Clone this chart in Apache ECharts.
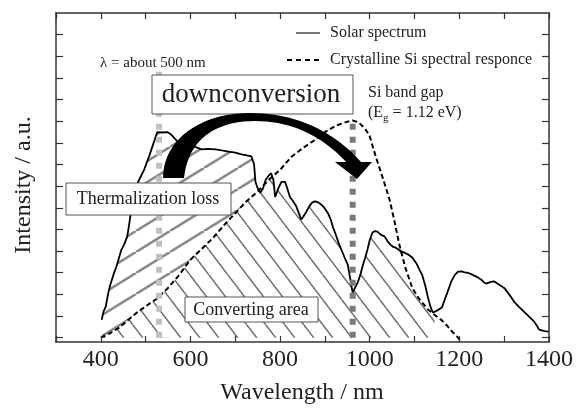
<!DOCTYPE html>
<html>
<head>
<meta charset="utf-8">
<script src="https://cdn.jsdelivr.net/npm/echarts@6/dist/echarts.min.js"></script>
<style>
html,body{margin:0;padding:0;background:#fff;}
#c{width:576px;height:409px;}
</style>
</head>
<body>
<div id="c"></div>
<script>
// ---- data ----
const solarNm = [402,406,411,416,420,428,435,446,452,459,463,468,474,479,488,497,508,519,526,530,540,548,556,565,574,585,597,612,625,640,656,670,685,700,714,726,736,742,745,750,756,762,768,774,780,785,789,796,803,811,816,822,829,836,841,847,852,858,866,872,878,885,891,897,902,908,913,918,924,932,940,946,951,955,957,960,962,967,973,979,984,990,995,1000,1006,1012,1017,1025,1033,1040,1046,1052,1057,1064,1075,1085,1095,1105,1112,1117,1124,1130,1136,1141,1150,1161,1168,1174,1182,1190,1197,1205,1212,1219,1230,1240,1249,1255,1260,1270,1278,1289,1300,1311,1322,1333,1344,1355,1367,1373,1378,1390,1400];
const solarVal = [0.83,1.2,1.43,2.0,2.36,2.9,3.3,4.07,4.3,4.68,5.2,5.9,6.5,7.0,7.4,7.78,8.4,9.07,9.5,9.53,9.48,9.5,9.4,9.2,9.0,8.98,8.93,8.8,8.7,8.72,8.7,8.65,8.6,8.55,8.47,8.42,8.38,8.0,7.2,6.9,6.7,6.9,7.3,7.47,7.6,7.3,6.5,6.9,7.2,7.2,6.9,6.5,6.3,6.07,5.8,5.46,5.6,5.8,6.1,6.25,6.3,6.25,6.16,6.05,5.9,5.7,5.46,5.1,4.77,4.3,3.9,3.6,3.38,2.9,2.68,2.3,2.08,2.3,2.54,2.9,3.3,3.7,4.07,4.5,4.86,4.92,4.9,4.75,4.68,4.45,4.3,4.2,4.17,4.07,3.95,3.85,3.7,3.4,3.1,2.9,2.4,1.85,1.4,1.16,1.25,1.39,1.8,2.13,2.6,2.9,3.05,3.06,3.02,3.0,2.9,2.8,2.68,2.55,2.5,2.58,2.6,2.45,2.3,2.0,1.67,1.42,1.2,0.98,0.74,0.55,0.37,0.3,0.28];
const siNm  = [400,420,440,460,480,500,525,550,575,600,625,650,675,700,725,750,775,800,825,850,875,900,925,950,962,975,990,1000,1013,1028,1044,1055,1066,1080,1095,1110,1130,1145,1161,1175,1183,1195,1205];
const siVal = [0.0,0.2,0.45,0.8,1.15,1.45,1.8,2.3,2.9,3.6,4.1,4.6,5.2,5.75,6.3,6.75,7.3,7.75,8.35,8.75,9.1,9.5,9.8,9.98,10.03,9.95,9.65,9.3,8.4,7.45,6.4,5.4,4.3,3.2,2.3,1.8,1.3,1.05,0.8,0.5,0.3,0.05,-0.2];
const thermEndNm = 756;           // thermalization hatch ends where the curves cross
const convEndNm = 1145;           // converting-area hatch ends where the curves cross again
const markerNm  = [530, 962];     // λ ≈ 500 nm marker, Si band gap marker
const markerTop = [12.5, 10.2];
const xTicks = {min:300, max:1400, step:100, labelStep:200};
const yTicks = [0,1,2,3,4,5,6,7,8,9,10,11,12,13,14];
const legendNames = ['Solar spectrum','Crystalline Si spectral responce'];

const FONT = '"Liberation Serif", "DejaVu Serif", serif';

function pairs(xs, ys){ return xs.map((x,i)=>[x, ys[i]]); }
const solar = pairs(solarNm, solarVal);
const si = pairs(siNm, siVal);
const therm = solar.filter(p => p[0] <= thermEndNm);
const conv = si.filter(p => p[0] <= convEndNm);

function hatch(w, h, color, lw, dir){
  const c = document.createElement('canvas');
  c.width = w; c.height = h;
  const g = c.getContext('2d');
  g.fillStyle = '#fff'; g.fillRect(0,0,w,h);
  g.strokeStyle = color; g.lineWidth = lw; g.lineCap = 'butt';
  for (let k=-1;k<=1;k++){
    g.beginPath();
    if (dir === 'up'){ g.moveTo(k*w, h); g.lineTo(k*w+w, 0); }
    else { g.moveTo(k*w, 0); g.lineTo(k*w+w, h); }
    g.stroke();
  }
  return c;
}
const patUp = hatch(34, 21, '#8a8a8a', 2.6, 'up');
const patDown = hatch(19, 25, '#707070', 1.5, 'down');

const mctx = document.createElement('canvas').getContext('2d');
function tw(t, size){ mctx.font = size + 'px ' + FONT; return mctx.measureText(t).width; }

// arrow outline (pixel geometry of the drawn annotation)
function bez(p0, p1, p2, p3, n){
  const out = [];
  for (let i=0;i<=n;i++){
    const t=i/n, u=1-t;
    out.push([u*u*u*p0[0]+3*u*u*t*p1[0]+3*u*t*t*p2[0]+t*t*t*p3[0],
              u*u*u*p0[1]+3*u*u*t*p1[1]+3*u*t*t*p2[1]+t*t*t*p3[1]]);
  }
  return out;
}
const arrowPts = [].concat(
  bez([163,178],[163,140],[200,113],[250,113],20),
  bez([250,113],[295,113],[332,130],[361,162],20),
  [[372,162],[357,179],[335,162],[346,162]],
  bez([346,162],[325,139],[295,121],[255,121],20),
  bez([255,121],[215,121],[188,140],[184,178],20)
);

const chart = echarts.init(document.getElementById('c'), null, {renderer:'canvas'});

const axisLineStyle = {color:'#333', width:1.5};
function xAx(pos, labels){
  return {
    type:'value', position:pos, min:xTicks.min, max:xTicks.max, interval:xTicks.step, z:10,
    axisLine:{show:true, onZero:false, lineStyle:axisLineStyle},
    axisTick:{show:true, inside:true, length:6, lineStyle:{color:'#333', width:1.2}},
    axisLabel:{show:labels, margin:6, fontFamily:FONT, fontSize:24, color:'#222',
      formatter: v => (v % xTicks.labelStep === 0 && v !== xTicks.min) ? String(v) : ''},
    splitLine:{show:false}
  };
}
function yAx(pos){
  return {
    type:'value', position:pos, min:-0.2, max:15, z:10,
    axisLine:{show:true, onZero:false, lineStyle:axisLineStyle},
    axisTick:{show:true, inside:true, length:7, customValues:yTicks, lineStyle:{color:'#333', width:1.2}},
    axisLabel:{show:false},
    splitLine:{show:false}
  };
}
const noLine = {width:0, opacity:0};

// subscript text pieces
const ebx = 368, eby = 113;
const w1 = tw('(E', 16), wg = tw('g', 11);

function box(x, y, w, h){
  return {type:'rect', z:100, shape:{x:x, y:y, width:w, height:h}, style:{fill:'#fff', stroke:'#555', lineWidth:1}};
}
function txt(t, x, y, size, align){
  return {type:'text', z:101, style:{text:t, x:x, y:y, font: size + 'px ' + FONT, fill:'#222',
    textAlign:align||'left', align:align||'left', textVerticalAlign:'middle', verticalAlign:'middle'}};
}

const option = {
  animation:false,
  backgroundColor:'#fff',
  grid:{left:56, right:23, top:13, bottom:67, containLabel:false},
  xAxis:[xAx('bottom', true), xAx('top', false)],
  yAxis:[yAx('left'), yAx('right')],
  series:[
    {type:'line', data:therm, symbol:'none', lineStyle:noLine, areaStyle:{color:{image:patUp, repeat:'repeat'}, opacity:1}, z:1},
    {type:'line', data:conv, symbol:'none', lineStyle:noLine, areaStyle:{color:{image:patDown, repeat:'repeat'}, opacity:1}, z:2},
    {type:'line', data:solar, symbol:'none', lineStyle:noLine, areaStyle:{color:'#fff', origin:'end', opacity:1}, z:3},
    {type:'line', name:legendNames[0], data:solar, symbol:'none', lineStyle:{color:'#000', width:1.8}, z:5},
    {type:'line', name:legendNames[1], data:si, symbol:'none', lineStyle:{color:'#000', width:2, type:[5,3]}, z:5},
    {type:'line', data:[[markerNm[0],0],[markerNm[0],markerTop[0]]], symbol:'none', lineStyle:{color:'#c0c0c0', width:6, type:[6,7], cap:'butt'}, z:6},
    {type:'line', data:[[markerNm[1],0],[markerNm[1],markerTop[1]]], symbol:'none', lineStyle:{color:'#7a7a7a', width:6, type:[6,7], cap:'butt'}, z:6}
  ],
  graphic:[
    // legend
    {type:'line', z:100, shape:{x1:296, y1:33, x2:320, y2:33}, style:{stroke:'#777', lineWidth:2}},
    txt(legendNames[0], 330, 33, 16),
    {type:'line', z:100, shape:{x1:287, y1:60, x2:321, y2:60}, style:{stroke:'#000', lineWidth:2, lineDash:[5,4]}},
    txt(legendNames[1], 330, 60, 16),
    // annotations
    txt('λ = about 500 nm', 100, 63, 15),
    box(152, 75, 201, 39),
    txt('downconversion', 251, 95, 27, 'center'),
    txt('Si band gap', 368, 93, 16),
    txt('(E', ebx, eby, 16),
    {type:'text', z:101, style:{text:'g', x:ebx+w1, y:eby+5, font:'11px ' + FONT, fill:'#222', textVerticalAlign:'middle', verticalAlign:'middle'}},
    txt(' = 1.12 eV)', ebx+w1+wg, eby, 16),
    box(66, 183, 165, 32),
    txt('Thermalization loss', 148, 199, 18, 'center'),
    box(185, 297, 133, 25),
    txt('Converting area', 251, 310, 18, 'center'),
    // arrow
    {type:'polygon', z:102, shape:{points:arrowPts}, style:{fill:'#000'}},
    // axis titles
    txt('Wavelength / nm', 302, 393, 24, 'center'),
    {type:'text', z:101, rotation:Math.PI/2, x:24, y:185, style:{text:'Intensity / a.u.', x:0, y:0, font:'24px ' + FONT, fill:'#222',
      textAlign:'center', align:'center', textVerticalAlign:'middle', verticalAlign:'middle'}}
  ]
};
chart.setOption(option);
</script>
</body>
</html>
